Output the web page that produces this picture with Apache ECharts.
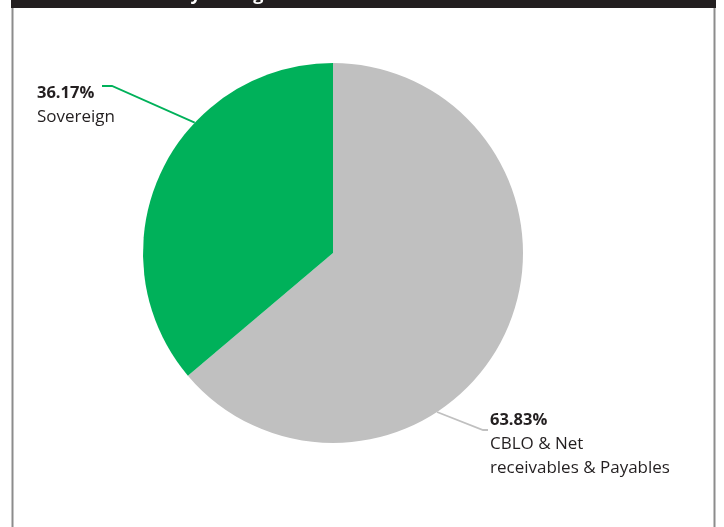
<!DOCTYPE html>
<html>
<head>
<meta charset="utf-8">
<title>Portfolio by rating</title>
<style>
body{margin:0;padding:0;background:#fff;}
#main{width:724px;height:527px;}
</style>
</head>
<body>
<div id="main"></div>
<script src="https://cdn.jsdelivr.net/npm/echarts@6/dist/echarts.min.js"></script>
<script>
var names=['CBLO & Net\nreceivables & Payables','Sovereign'];
var values=[63.83,36.17];
var colors=['#c0c0c0','#00b15a'];

var cx=333, cy=253, r=190;
// where each label line leaves the pie (degrees, maths convention)
function edge(deg){
  var a=deg*Math.PI/180;
  return [cx+r*Math.cos(a), cy-r*Math.sin(a)];
}

var myChart=echarts.init(document.getElementById('main'));
var option={
  animation:false,
  backgroundColor:'#fff',
  graphic:[
    {type:'rect',shape:{x:11,y:0,width:705,height:8},style:{fill:'#231f20'},z:10},
    {type:'text',left:30,top:-14,z:11,style:{text:'Asset Allocation by Rating',fill:'#fff',font:'bold 18px "Open Sans"'}},
    {type:'line',shape:{x1:12.5,y1:8,x2:12.5,y2:527},style:{stroke:'#8c8c8c',lineWidth:2}},
    {type:'line',shape:{x1:714.5,y1:8,x2:714.5,y2:527},style:{stroke:'#8c8c8c',lineWidth:2}}
  ],
  series:[{
    type:'pie',
    center:[cx,cy],
    radius:r,
    startAngle:90,
    clockwise:true,
    data:names.map(function(n,i){
      return {name:n,value:values[i],itemStyle:{color:colors[i]}};
    }),
    label:{
      show:true,
      width:260,
      overflow:'none',
      formatter:function(p){
        return '{v|'+p.value.toFixed(2)+'%}\n{n|'+p.name+'}';
      },
      rich:{
        v:{fontFamily:'Open Sans',fontWeight:'bold',fontSize:16.5,color:'#231f20',lineHeight:24},
        n:{fontFamily:'Open Sans',fontSize:17,color:'#231f20',lineHeight:24}
      },
      align:'left'
    },
    labelLine:{show:true,lineStyle:{width:1.8}},
    labelLayout:function(p){
      if(p.dataIndex===1){
        return {x:37,y:81,align:'left',verticalAlign:'top',width:260,
          labelLinePoints:[edge(136.7),[112,86],[102,86]]};
      }
      return {x:490,y:408,align:'left',verticalAlign:'top',width:260,
        labelLinePoints:[edge(-56.8),[483,430],[488,430]]};
    }
  }]
};
myChart.setOption(option);
</script>
</body>
</html>
